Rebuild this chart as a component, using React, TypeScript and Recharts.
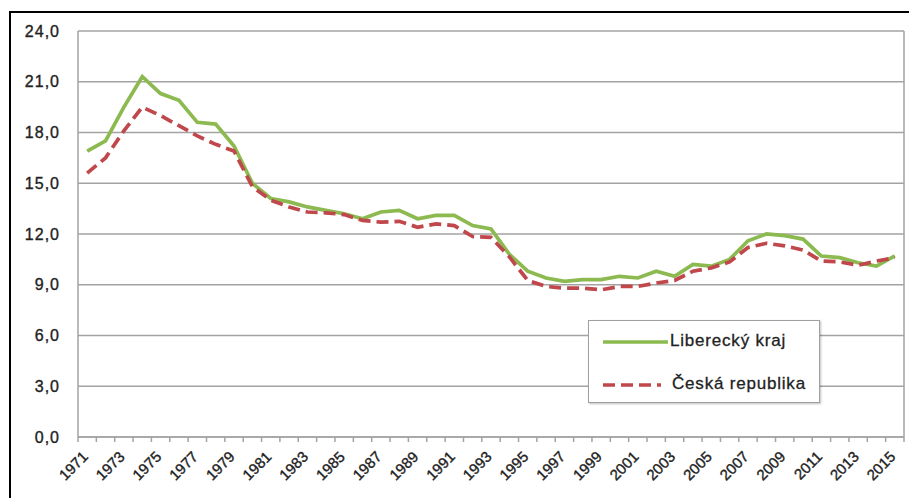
import React from "react";
import {
  LineChart,
  Line,
  XAxis,
  YAxis,
  CartesianGrid,
  Legend,
} from "recharts";

// categories: years 1971..2015
const years: string[] = Array.from({ length: 45 }, (_, i) => String(1971 + i));

// Liberecký kraj
const liberec: number[] = [
  16.9, 17.5, 19.5, 21.3, 20.3, 19.9, 18.6, 18.5, 17.2, 15.0,
  14.1, 13.9, 13.6, 13.4, 13.2, 12.9, 13.3, 13.4, 12.9, 13.1,
  13.1, 12.5, 12.3, 10.8, 9.8, 9.4, 9.2, 9.3, 9.3, 9.5,
  9.4, 9.8, 9.5, 10.2, 10.1, 10.5, 11.6, 12.0, 11.9, 11.7,
  10.7, 10.6, 10.3, 10.1, 10.7,
];

// Česká republika
const czech: number[] = [
  15.6, 16.5, 18.1, 19.5, 19.0, 18.4, 17.8, 17.3, 16.9, 14.8,
  14.0, 13.6, 13.3, 13.25, 13.15, 12.8, 12.7, 12.75, 12.4, 12.6,
  12.5, 11.85, 11.8, 10.65, 9.25, 8.9, 8.8, 8.8, 8.7, 8.9,
  8.9, 9.1, 9.25, 9.8, 10.0, 10.35, 11.2, 11.45, 11.3, 11.05,
  10.4, 10.35, 10.15, 10.4, 10.6,
];

const yTicks: number[] = [0, 3, 6, 9, 12, 15, 18, 21, 24];

const data = years.map((year, i) => ({
  year,
  liberec: liberec[i],
  czech: czech[i],
}));

const GREEN = "#8cba50";
const RED = "#c0474b";
const GRID = "#a3a3a3";
const TEXT = "#222";
const FONT = "'Liberation Sans', Arial, sans-serif";

const XTick = (props: any) => {
  const { x, y, payload, index } = props;
  const half = payload && payload.offset ? payload.offset : 9.18;
  const left = x - half;
  const last = index === years.length - 1;
  return (
    <g>
      <line x1={left} y1={y} x2={left} y2={y + 5} stroke={GRID} strokeWidth={1.5} />
      {last && (
        <line x1={x + half} y1={y} x2={x + half} y2={y + 5} stroke={GRID} strokeWidth={1.5} />
      )}
      {index % 2 === 0 && (
        <text
          x={x - 2}
          y={y + 17}
          dy="0.35em"
          textAnchor="end"
          transform={`rotate(-45, ${x - 2}, ${y + 17})`}
          fill={TEXT}
          stroke={TEXT}
          strokeWidth={0.35}
          fontSize={15}
          fontFamily={FONT}
        >
          {payload.value}
        </text>
      )}
    </g>
  );
};

const LegendBox = () => (
  <div
    style={{
      width: 230,
      height: 81,
      border: "1.5px solid #a0a0a0",
      background: "#fff",
      boxShadow: "1px 1px 2px rgba(0,0,0,0.25)",
      fontFamily: FONT,
      fontSize: 17,
      letterSpacing: 0.8,
      color: TEXT,
      WebkitTextStroke: "0.3px #222",
      position: "relative",
    }}
  >
    <svg width={80} height={81} style={{ position: "absolute", left: 0, top: 0 }}>
      <line x1={14} y1={21} x2={79} y2={21} stroke={GREEN} strokeWidth={3.5} />
      <line x1={14} y1={64} x2={72} y2={64} stroke={RED} strokeWidth={3.5} strokeDasharray="12 6" />
    </svg>
    <div style={{ position: "absolute", left: 81, top: 10, whiteSpace: "nowrap" }}>Liberecký kraj</div>
    <div style={{ position: "absolute", left: 83, top: 53, whiteSpace: "nowrap" }}>Česká republika</div>
  </div>
);

const App = () => {
  return (
    <div
      style={{
        position: "absolute",
        left: 0,
        top: 0,
        width: 909,
        height: 498,
        overflow: "hidden",
        background: "#fff",
      }}
    >
      <div
        style={{
          position: "absolute",
          left: 9,
          top: 11,
          width: 1000,
          height: 600,
          borderTop: "2px solid #000",
          borderLeft: "2px solid #000",
        }}
      />
      <div style={{ position: "absolute", left: 0, top: 0 }}>
        <LineChart
          width={909}
          height={498}
          data={data}
          margin={{ top: 31, right: 5, bottom: 6, left: 18 }}
        >
          <CartesianGrid
            stroke={GRID}
            strokeWidth={1.5}
            vertical={true}
            verticalCoordinatesGenerator={({ offset }: any) => [offset.left + offset.width]}
          />
          <XAxis
            dataKey="year"
            scale="band"
            interval={0}
            height={55}
            axisLine={{ stroke: GRID, strokeWidth: 1.5 }}
            tickLine={false}
            tickSize={0}
            tickMargin={0}
            tick={<XTick />}
          />
          <YAxis
            domain={[0, 24]}
            ticks={yTicks}
            width={60}
            axisLine={{ stroke: GRID, strokeWidth: 1.5 }}
            tickLine={false}
            tickSize={0}
            tickMargin={18}
            tickFormatter={(v: number) => v.toFixed(1).replace(".", ",")}
            tick={{
              fill: TEXT,
              stroke: TEXT,
              strokeWidth: 0.35,
              fontSize: 16,
              fontFamily: FONT,
              letterSpacing: 1,
            }}
          />
          <Legend
            layout="horizontal"
            verticalAlign="middle"
            align="center"
            content={<LegendBox />}
            wrapperStyle={{ left: 588, top: 320, width: 233, height: 84 }}
          />
          <Line
            type="linear"
            dataKey="liberec"
            name="Liberecký kraj"
            stroke={GREEN}
            strokeWidth={3.7}
            dot={false}
            activeDot={false}
            isAnimationActive={false}
          />
          <Line
            type="linear"
            dataKey="czech"
            name="Česká republika"
            stroke={RED}
            strokeWidth={3.7}
            strokeDasharray="12 6"
            dot={false}
            activeDot={false}
            isAnimationActive={false}
          />
        </LineChart>
      </div>
    </div>
  );
};

export default App;
